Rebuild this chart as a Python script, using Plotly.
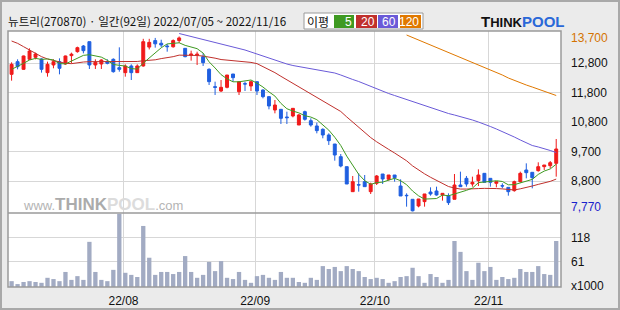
import plotly.graph_objects as go
import pandas as pd

# ---------------- data ----------------
idx = list(range(92))  # trading days 2022/07/05 .. 2022/11/16

opens = [12416, 12845, 12586, 12925, 12993, 12936, 12473, 12733, 12845, 12766,
         13050, 13185, 13376, 13523, 12733, 12766, 12845, 12925, 12642, 12473,
         12699, 12473, 12699, 13340, 13560, 13470, 13376, 13350, 13560, 13297,
         13060, 13060, 13015, 12586, 11998, 11851, 11975, 12427, 11828, 12100,
         12021, 12167, 11885, 11659, 11207, 11230, 10970, 11004, 10698, 11150,
         10845, 10665, 10552, 10360, 10054, 9625, 9286, 8438, 8675, 8777,
         8438, 8721, 9037, 8857, 9003, 8630, 8315, 8179, 7953, 8100,
         8427, 8461, 8326, 8303, 8179, 8664, 8890, 8698, 8812, 9060,
         8890, 8721, 8640, 8585, 8472, 8777, 9173, 9094, 9150, 9286,
         9320, 9399]
highs = [12823, 12925, 13050, 13297, 13151, 12958, 12845, 12925, 12958, 13050,
         13151, 13354, 13410, 13523, 12925, 12925, 12925, 12958, 13331, 12755,
         12755, 12755, 13620, 13620, 13650, 13590, 13444, 13600, 13700, 13297,
         13218, 13184, 13128, 12620, 12167, 12224, 12393, 12427, 12167, 12167,
         12201, 12167, 11907, 11681, 11546, 11230, 11150, 11263, 11071, 11184,
         10925, 10778, 10586, 10416, 10054, 9715, 9286, 8970, 9060, 9003,
         8743, 9003, 9037, 9003, 9003, 8857, 8382, 8179, 8190, 8360,
         8585, 8608, 8382, 8382, 9037, 9116, 8970, 8947, 9195, 9060,
         8890, 8777, 8721, 8585, 8812, 9116, 9399, 9094, 9433, 9342,
         9478, 10224]
lows = [12201, 12586, 12570, 12902, 12925, 12473, 12337, 12620, 12416, 12744,
        12790, 13150, 13128, 12597, 12597, 12597, 12755, 12473, 12506, 12337,
        12224, 12473, 12676, 13260, 13320, 13340, 13184, 13320, 13480, 12993,
        12880, 12733, 12699, 12054, 11716, 11817, 11941, 12167, 11715, 11851,
        11851, 11715, 11602, 11230, 11094, 10733, 10733, 10958, 10698, 10845,
        10642, 10416, 10247, 10021, 9489, 9263, 8698, 8438, 8438, 8608,
        8359, 8664, 8698, 8812, 8777, 8292, 7930, 7770, 7907, 7930,
        8303, 8303, 8134, 7987, 8179, 8608, 8608, 8608, 8630, 8755,
        8608, 8585, 8551, 8303, 8438, 8743, 8890, 8551, 9116, 9173,
        9229, 8947]
closes = [12755, 12676, 13038, 13207, 13106, 12586, 12755, 12845, 12620, 13038,
          13100, 13320, 13218, 12733, 12823, 12902, 12789, 12506, 12586, 12699,
          12473, 12699, 13523, 13500, 13450, 13410, 13354, 13560, 13650, 13015,
          13105, 13100, 12812, 12167, 11975, 11975, 12393, 12303, 12167, 12088,
          12167, 11851, 11659, 11343, 11376, 10925, 10947, 11263, 11038, 10891,
          10698, 10507, 10360, 10167, 9681, 9308, 8698, 8777, 8664, 8608,
          8698, 8970, 8868, 9003, 8913, 8292, 8303, 7790, 8190, 8360,
          8360, 8326, 8382, 8066, 8664, 8608, 8698, 8755, 9003, 8755,
          8755, 8777, 8630, 8438, 8777, 9060, 9082, 8913, 9286, 9342,
          9421, 9885]
volume = [14, 7, 12, 14, 12, 10, 22, 19, 14, 36,
          17, 26, 17, 108, 36, 17, 14, 41, 175, 34,
          29, 24, 146, 70, 29, 36, 36, 31, 36, 74,
          36, 22, 29, 60, 38, 62, 22, 19, 36, 17,
          10, 26, 29, 22, 17, 36, 22, 22, 12, 10,
          22, 17, 50, 43, 48, 38, 50, 43, 38, 24,
          19, 22, 19, 10, 14, 24, 26, 46, 26, 10,
          31, 24, 10, 17, 110, 84, 38, 17, 58, 38,
          48, 17, 24, 19, 22, 43, 36, 36, 50, 31,
          29, 110]

# moving-average values that depend on days before the window
ma5_head = [12585, 12676, 12789, 12902]
ma20_head = [13546, 13467, 13354, 13241, 13128, 13015, 12936, 12880, 12834, 12789,
             12778, 12812, 12834, 12845, 12845, 12845, 12845, 12845, 12845]
ma60 = [None] * 28 + [
    13800, 13749, 13698, 13648, 13614, 13563, 13512, 13461, 13410, 13359,
    13309, 13241, 13173, 13105, 13037, 12970, 12885, 12817, 12766, 12715,
    12681, 12647, 12614, 12580, 12546, 12512, 12461, 12393, 12308, 12241,
    12173, 12088, 12020, 11936, 11851, 11766, 11698, 11630, 11563, 11495,
    11427, 11342, 11275, 11207, 11139, 11088, 11037, 10987, 10936, 10868,
    10800, 10732, 10647, 10563, 10478, 10393, 10291, 10190, 10088, 10003,
    9953, 9902, 9834, 9766]
ma120 = [None] * 66 + [
    13749, 13665, 13580, 13495, 13410, 13342, 13258, 13173, 13088, 13003,
    12902, 12817, 12732, 12647, 12563, 12478, 12393, 12292, 12207, 12139,
    12054, 11986, 11919, 11834, 11766, 11698]

month_starts = [19, 41, 61, 80]
month_labels = ["22/08", "22/09", "22/10", "22/11"]
price_ticks = [12800, 11800, 10800, 9800, 8800]
price_labels = ["12,800", "11,800", "10,800", "9,700", "8,800"]
vol_ticks = [61, 118]
vol_labels = ["61", "118"]
max_label, min_label = "13,700", "7,770"
title_text = "뉴트리(270870) · 일간(92일) 2022/07/05 ~ 2022/11/16"

# ---------------- derived ----------------
cs = pd.Series(closes, dtype=float)
ma5 = cs.rolling(5).mean().tolist()
ma5[:4] = ma5_head
ma20 = cs.rolling(20).mean().tolist()
ma20[:19] = ma20_head

# ---------------- geometry helpers ----------------
W, H = 620, 310
L, R, T, B = 8, 59, 31, 23
PW, PH = W - L - R, H - T - B


def px(x):
    return (x - L) / PW


def py(y):
    return (H - B - y) / PH


VOL_FRAC = 74 / PH

UP, DOWN = "#f01a1a", "#1f5fe0"
C5, C20, C60, C120 = "#3f9a22", "#c0302c", "#6a5ad8", "#e07800"
FONT = "Liberation Sans"

fig = go.Figure()
fig.add_trace(go.Bar(x=idx, y=volume, xaxis="x", yaxis="y2", width=0.72,
                     marker=dict(color="#a2abc3", line=dict(width=0)),
                     hoverinfo="skip"))
for vals, col in [(ma120, C120), (ma60, C60), (ma20, C20), (ma5, C5)]:
    fig.add_trace(go.Scatter(x=idx, y=vals, mode="lines", xaxis="x", yaxis="y",
                             line=dict(color=col, width=1), hoverinfo="skip"))
fig.add_trace(go.Candlestick(
    x=idx, open=opens, high=highs, low=lows, close=closes, xaxis="x", yaxis="y",
    whiskerwidth=0,
    increasing=dict(line=dict(color=UP, width=1), fillcolor=UP),
    decreasing=dict(line=dict(color=DOWN, width=1), fillcolor=DOWN)))

tickfont = dict(family=FONT, size=12, color="#111111")
fig.update_layout(
    width=W, height=H, margin=dict(l=L, r=R, t=T, b=B),
    paper_bgcolor="#ebebeb", plot_bgcolor="#ffffff", showlegend=False,
    xaxis=dict(domain=[0, 1], range=[-0.6, 91.8], anchor="y2", automargin=False,
               tickvals=[m - 0.3 for m in month_starts], ticktext=month_labels,
               showgrid=True, gridcolor="#d7d7d7", gridwidth=1, zeroline=False,
               ticks="outside", ticklen=3, tickcolor="rgba(0,0,0,0)",
               tickfont=tickfont, rangeslider=dict(visible=False)),
    yaxis=dict(domain=[VOL_FRAC, 1], range=[7715, 13885], side="right", anchor="x",
               automargin=False,
               tickvals=price_ticks, ticktext=price_labels, showgrid=True,
               gridcolor="#d7d7d7", gridwidth=1, zeroline=False, ticks="",
               tickfont=tickfont, ticklabelstandoff=9),
    yaxis2=dict(domain=[0, VOL_FRAC], range=[0, 177], side="right", anchor="x",
                automargin=False,
                tickvals=vol_ticks, ticktext=vol_labels, showgrid=True,
                gridcolor="#d7d7d7", gridwidth=1, zeroline=False, ticks="",
                tickfont=tickfont, ticklabelstandoff=9),
)

shapes = [
    # outer border
    dict(type="rect", xref="paper", yref="paper", x0=px(1), x1=px(619), y0=py(309), y1=py(1),
         line=dict(color="#a9a9a9", width=2), layer="below"),
    # plot frame
    dict(type="rect", xref="paper", yref="paper", x0=0, x1=1, y0=0, y1=1,
         line=dict(color="#9a9a9a", width=1.5)),
    dict(type="line", xref="paper", yref="paper", x0=0, x1=1, y0=VOL_FRAC, y1=VOL_FRAC,
         line=dict(color="#9a9a9a", width=1.5)),
    # legend box
    dict(type="rect", xref="paper", yref="paper", x0=px(304), x1=px(423), y0=py(29), y1=py(13),
         fillcolor="#ffffff", line=dict(color="#9a9a9a", width=1)),
]
legend_items = [("5", C5, 334, 354), ("20", C20, 356, 377), ("60", C60, 378, 398), ("120", C120, 400, 421)]
for _, col, a, b in legend_items:
    shapes.append(dict(type="rect", xref="paper", yref="paper", x0=px(a), x1=px(b),
                       y0=py(28), y1=py(15), fillcolor=col, line=dict(width=0)))
fig.update_layout(shapes=shapes)

ann = [
    dict(text=title_text, x=px(7), y=py(21), xanchor="left", yanchor="middle",
         font=dict(family="Noto Sans CJK KR", size=11.6, color="#111111")),
    dict(text="이평", x=px(318), y=py(21), xanchor="center", yanchor="middle",
         font=dict(family="Noto Sans CJK KR", size=12, color="#111111")),
    dict(text="<b>T</b><b><span style='font-size:13px'>HINK</span></b>"
              "<b><span style='color:#2a68d8'>POOL</span></b>",
         x=px(522), y=py(21), xanchor="center", yanchor="middle",
         font=dict(family=FONT, size=15, color="#111111")),
    dict(text="www.<b><span style='font-size:17px;color:#ababab'>THINK</span></b>"
              "<b><span style='font-size:17px;color:#dcdcdc'>POOL</span></b>.com",
         x=px(22), y=py(204), xanchor="left", yanchor="middle",
         font=dict(family=FONT, size=13, color="#b4b4b4")),
    dict(text=max_label, x=px(570), y=py(38), xanchor="left", yanchor="middle",
         font=dict(family=FONT, size=12, color="#d47300")),
    dict(text=min_label, x=px(570), y=py(207), xanchor="left", yanchor="middle",
         font=dict(family=FONT, size=12, color="#1a22cc")),
    dict(text="x1000", x=px(570), y=py(286), xanchor="left", yanchor="middle",
         font=dict(family=FONT, size=12, color="#111111")),
]
for lab, col, a, b in legend_items:
    ann.append(dict(text=lab, x=px(b - 1), y=py(21.5), xanchor="right", yanchor="middle",
                    font=dict(family=FONT, size=12, color="#ffffff")))
for a in ann:
    a.update(xref="paper", yref="paper", showarrow=False, borderpad=0)
fig.update_layout(annotations=ann)

fig.write_html("out.html")
